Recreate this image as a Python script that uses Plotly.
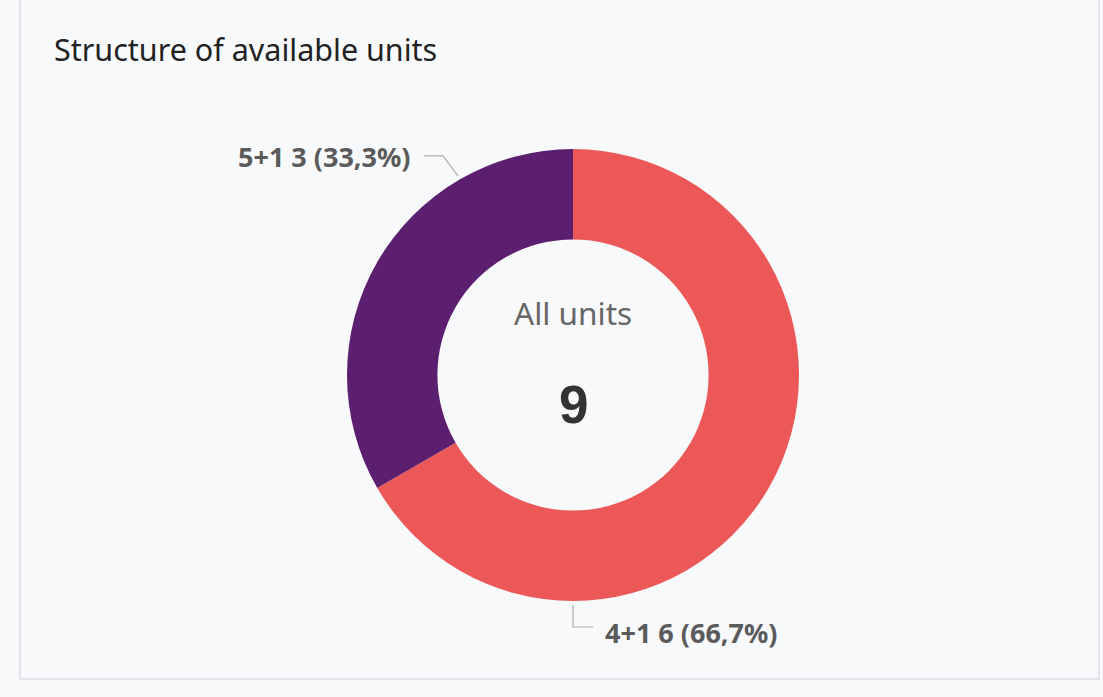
import math
import plotly.graph_objects as go

labels = ["4+1", "5+1"]
values = [6, 3]
colors = ["#EC5757", "#5C1F6F"]
title = "Structure of available units"
center_label = "All units"

W, H = 1103, 697
cx, cy, R = 573, 375, 226
hole = 0.6
total = sum(values)

fig = go.Figure()

# hidden pixel axes for annotations/shapes
fig.add_trace(go.Scatter(x=[0], y=[0], mode="markers", marker=dict(opacity=0),
                         hoverinfo="skip", showlegend=False))

fig.add_trace(go.Pie(
    labels=labels, values=values, hole=hole, sort=False, direction="clockwise",
    rotation=0, textinfo="none", marker=dict(colors=colors, line=dict(width=0)),
    showlegend=False,
    domain=dict(x=[(cx - R) / W, (cx + R) / W], y=[(H - cy - R) / H, (H - cy + R) / H]),
))

font = "Noto Sans, Open Sans, sans-serif"
shapes = [dict(type="rect", xref="x", yref="y", x0=20, x1=1099, y0=-5, y1=679,
               fillcolor="#F8F9FB", line=dict(color="#E3E4E8", width=2), layer="below")]
annotations = []

# leader-line label placements: (angle from top, clockwise degrees, side)
placements = {"4+1": (180, "right"), "5+1": (-30, "left")}
for lab, val in zip(labels, values):
    ang, side = placements[lab]
    a = math.radians(ang)
    sx = cx + (R + 4) * math.sin(a)
    sy = cy - (R + 4) * math.cos(a)
    pct = f"{val / total * 100:.1f}".replace(".", ",")
    text = f"<b>{lab} {val} ({pct}%)</b>"
    if side == "left":
        kx, ky = sx - 15, sy - 20
        ex = kx - 19
        pts = [(sx, sy), (kx, ky), (ex, ky)]
        annotations.append(dict(x=ex - 11, y=ky + 1, xref="x", yref="y", text=text, showarrow=False,
                                xanchor="right", yanchor="middle",
                                font=dict(family=font, size=27, color="#5B5B5B")))
    else:
        kx, ky = sx, sy + 22
        ex = kx + 20
        pts = [(sx, sy), (kx, ky), (ex, ky)]
        annotations.append(dict(x=ex + 10, y=ky + 5, xref="x", yref="y", text=text, showarrow=False,
                                xanchor="left", yanchor="middle",
                                font=dict(family=font, size=27, color="#5B5B5B")))
    path = "M " + " L ".join(f"{px},{py}" for px, py in pts)
    shapes.append(dict(type="path", xref="x", yref="y", path=path,
                       line=dict(color="#AEAEAE", width=1.2)))

annotations.append(dict(x=52, y=49, xref="x", yref="y", text=title, showarrow=False,
                        xanchor="left", yanchor="middle",
                        font=dict(family=font, size=30.5, color="#222222")))
annotations.append(dict(x=cx, y=312, xref="x", yref="y", text=center_label, showarrow=False,
                        xanchor="center", yanchor="middle",
                        font=dict(family=font, size=31.5, color="#666666")))
annotations.append(dict(x=cx, y=404, xref="x", yref="y", text=f"<b>{total}</b>", showarrow=False,
                        xanchor="center", yanchor="middle",
                        font=dict(family="Liberation Sans, Arial, sans-serif", size=53, color="#333333")))

fig.update_layout(
    width=W, height=H, autosize=False,
    margin=dict(l=0, r=0, t=0, b=0),
    paper_bgcolor="#F8F9FB", plot_bgcolor="rgba(0,0,0,0)",
    xaxis=dict(range=[0, W], visible=False, domain=[0, 1], fixedrange=True),
    yaxis=dict(range=[H, 0], visible=False, domain=[0, 1], fixedrange=True),
    shapes=shapes, annotations=annotations,
)

fig.write_html("out.html", config={"displayModeBar": False},
               post_script="document.body.style.margin='0';document.body.style.background='#F8F9FB';")
